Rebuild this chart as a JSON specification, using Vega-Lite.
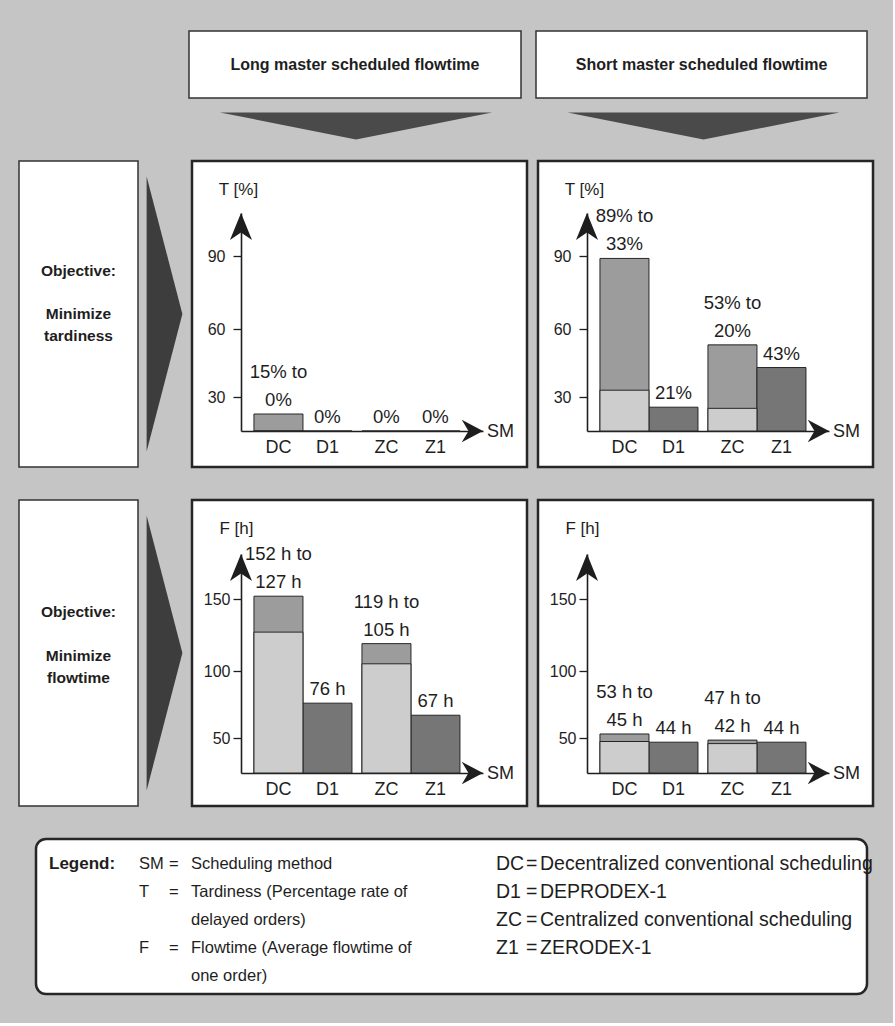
{
  "$schema": "https://vega.github.io/schema/vega-lite/v6.json",
  "background": "#c5c5c5",
  "padding": {"left": 18, "top": 30, "right": 18, "bottom": 27},
  "config": {"view": {"stroke": null}, "font": "Liberation Sans"},
  "datasets": {
    "results": [
      {"objective": "T", "term": "Long", "method": "DC", "pair": "D", "kind": "C", "upper": 15, "lower": 0, "labelTop": "15% to", "label": "0%"},
      {"objective": "T", "term": "Long", "method": "D1", "pair": "D", "kind": "1", "upper": 0, "lower": null, "labelTop": null, "label": "0%"},
      {"objective": "T", "term": "Long", "method": "ZC", "pair": "Z", "kind": "C", "upper": 0, "lower": null, "labelTop": null, "label": "0%"},
      {"objective": "T", "term": "Long", "method": "Z1", "pair": "Z", "kind": "1", "upper": 0, "lower": null, "labelTop": null, "label": "0%"},
      {"objective": "T", "term": "Short", "method": "DC", "pair": "D", "kind": "C", "upper": 89, "lower": 33, "labelTop": "89% to", "label": "33%"},
      {"objective": "T", "term": "Short", "method": "D1", "pair": "D", "kind": "1", "upper": 21, "lower": null, "labelTop": null, "label": "21%"},
      {"objective": "T", "term": "Short", "method": "ZC", "pair": "Z", "kind": "C", "upper": 53, "lower": 20, "labelTop": "53% to", "label": "20%"},
      {"objective": "T", "term": "Short", "method": "Z1", "pair": "Z", "kind": "1", "upper": 43, "lower": null, "labelTop": null, "label": "43%"},
      {"objective": "F", "term": "Long", "method": "DC", "pair": "D", "kind": "C", "upper": 152, "lower": 127, "labelTop": "152 h to", "label": "127 h"},
      {"objective": "F", "term": "Long", "method": "D1", "pair": "D", "kind": "1", "upper": 76, "lower": null, "labelTop": null, "label": "76 h"},
      {"objective": "F", "term": "Long", "method": "ZC", "pair": "Z", "kind": "C", "upper": 119, "lower": 105, "labelTop": "119 h to", "label": "105 h"},
      {"objective": "F", "term": "Long", "method": "Z1", "pair": "Z", "kind": "1", "upper": 67, "lower": null, "labelTop": null, "label": "67 h"},
      {"objective": "F", "term": "Short", "method": "DC", "pair": "D", "kind": "C", "upper": 53, "lower": 45, "labelTop": "53 h to", "label": "45 h"},
      {"objective": "F", "term": "Short", "method": "D1", "pair": "D", "kind": "1", "upper": 44, "lower": null, "labelTop": null, "label": "44 h"},
      {"objective": "F", "term": "Short", "method": "ZC", "pair": "Z", "kind": "C", "upper": 47, "lower": 42, "labelTop": "47 h to", "label": "42 h"},
      {"objective": "F", "term": "Short", "method": "Z1", "pair": "Z", "kind": "1", "upper": 44, "lower": null, "labelTop": null, "label": "44 h"}
    ],
    "legendEntries": [
      {"col": 1, "line": 1, "entry": "Legend:"},
      {"col": 2, "line": 1, "entry": "SM"},
      {"col": 3, "line": 1, "entry": "="},
      {"col": 4, "line": 1, "entry": "Scheduling method"},
      {"col": 2, "line": 2, "entry": "T"},
      {"col": 3, "line": 2, "entry": "="},
      {"col": 4, "line": 2, "entry": "Tardiness (Percentage rate of"},
      {"col": 4, "line": 3, "entry": "delayed orders)"},
      {"col": 2, "line": 4, "entry": "F"},
      {"col": 3, "line": 4, "entry": "="},
      {"col": 4, "line": 4, "entry": "Flowtime (Average flowtime of"},
      {"col": 4, "line": 5, "entry": "one order)"},
      {"col": 5, "line": 1, "entry": "DC"},
      {"col": 6, "line": 1, "entry": "="},
      {"col": 7, "line": 1, "entry": "Decentralized conventional scheduling"},
      {"col": 5, "line": 2, "entry": "D1"},
      {"col": 6, "line": 2, "entry": "="},
      {"col": 7, "line": 2, "entry": "DEPRODEX-1"},
      {"col": 5, "line": 3, "entry": "ZC"},
      {"col": 6, "line": 3, "entry": "="},
      {"col": 7, "line": 3, "entry": "Centralized conventional scheduling"},
      {"col": 5, "line": 4, "entry": "Z1"},
      {"col": 6, "line": 4, "entry": "="},
      {"col": 7, "line": 4, "entry": "ZERODEX-1"}
    ]
  },
  "spacing": 17,
  "vconcat": [
    {
      "spacing": 11,
      "vconcat": [
        {
          "spacing": 13,
          "hconcat": [
            {"width": 156, "height": 67, "mark": {"type": "text", "text": ""}},
            {"width": 332, "height": 67, "view": {"fill": "#ffffff", "stroke": "#333333", "strokeWidth": 1.5},
             "data": {"values": [{"heading": "Long master scheduled flowtime"}]},
             "mark": {"type": "text", "font": "Liberation Sans", "fontWeight": "bold", "fontSize": 16, "color": "#1e1e1e"},
             "encoding": {"text": {"field": "heading"}}},
            {"width": 331, "height": 67, "view": {"fill": "#ffffff", "stroke": "#333333", "strokeWidth": 1.5},
             "data": {"values": [{"heading": "Short master scheduled flowtime"}]},
             "mark": {"type": "text", "font": "Liberation Sans", "fontWeight": "bold", "fontSize": 16, "color": "#1e1e1e"},
             "encoding": {"text": {"field": "heading"}}}
          ]
        },
        {
          "spacing": 16,
          "hconcat": [
            {"width": 155, "height": 32, "mark": {"type": "text", "text": ""}},
            {"width": 332, "height": 32, "data": {"values": [{"arrow": "long"}]},
             "mark": {"type": "point", "shape": "M-1,-0.1L1,-0.1L0,0.1Z", "size": 73984, "filled": true, "color": "#4a4a4a", "opacity": 1, "strokeWidth": 0}, "encoding": {}},
            {"width": 331, "height": 32, "data": {"values": [{"arrow": "short"}]},
             "mark": {"type": "point", "shape": "M-1,-0.1L1,-0.1L0,0.1Z", "size": 73984, "filled": true, "color": "#4a4a4a", "opacity": 1, "strokeWidth": 0}, "encoding": {}}
          ]
        }
      ]
    },
    {
      "spacing": 29,
      "vconcat": [
        {
          "spacing": 7,
          "hconcat": [
            {
              "spacing": 0,
              "hconcat": [
                {"width": 119, "height": 306, "view": {"fill": "#ffffff", "stroke": "#333333", "strokeWidth": 1.5},
                 "data": {"values": [{"heading": "Objective:", "goal": "Minimize", "measure": "tardiness"}]},
                 "layer": [
                   {"mark": {"type": "text", "font": "Liberation Sans", "fontWeight": "bold", "fontSize": 15.5, "color": "#1e1e1e", "dy": -43}, "encoding": {"text": {"field": "heading"}}},
                   {"mark": {"type": "text", "font": "Liberation Sans", "fontWeight": "bold", "fontSize": 15.5, "color": "#1e1e1e", "dy": 0}, "encoding": {"text": {"field": "goal"}}},
                   {"mark": {"type": "text", "font": "Liberation Sans", "fontWeight": "bold", "fontSize": 15.5, "color": "#1e1e1e", "dy": 22}, "encoding": {"text": {"field": "measure"}}}
                 ]},
                {"width": 51, "height": 306, "data": {"values": [{"arrow": "tardiness"}]},
                 "mark": {"type": "point", "shape": "M-0.13,-1L0.13,0L-0.13,1Z", "size": 75625, "filled": true, "color": "#3d3d3d", "opacity": 1, "strokeWidth": 0}, "encoding": {}},
                {
                  "width": 335, "height": 306,
                  "view": {"fill": "#ffffff", "stroke": "#262626", "strokeWidth": 2.5},
                  "resolve": {"scale": {"x": "independent"}},
                  "layer": [
                    {
                      "data": {"name": "results"},
                      "transform": [{"filter": "datum.objective === 'T' && datum.term === 'Long'"}],
                      "encoding": {
                        "x": {"field": "pair", "type": "nominal", "scale": {"domain": ["D", "Z"], "range": [49, 291], "paddingInner": 0.0926, "paddingOuter": 0.1667, "align": 0.36},
                              "axis": {"title": "SM", "labels": false, "ticks": false, "grid": false, "domainColor": "#1e1e1e", "domainWidth": 1.6, "offset": -36, "titleX": 308, "titleY": 0, "titleAlign": "center", "titleBaseline": "middle", "titleFont": "Liberation Sans", "titleFontSize": 18, "titleFontWeight": "normal", "titleColor": "#1e1e1e"}},
                        "xOffset": {"field": "kind", "type": "nominal", "scale": {"domain": ["C", "1"], "paddingInner": 0, "paddingOuter": 0}}
                      },
                      "layer": [
                        {"mark": {"type": "bar", "stroke": "#262626", "strokeWidth": 1},
                         "encoding": {
                           "y": {"field": "upper", "type": "quantitative", "stack": null,
                                 "scale": {"domain": [0, 30, 60, 90, 108], "range": [270, 236, 168, 95, 52], "nice": false, "zero": false},
                                 "axis": {"title": "T [%]", "values": [30, 60, 90], "offset": -49, "grid": false, "domainColor": "#1e1e1e", "domainWidth": 1.6, "tickColor": "#1e1e1e", "tickSize": 8, "tickWidth": 1.3, "labelFont": "Liberation Sans", "labelFontSize": 16, "labelColor": "#1e1e1e", "labelPadding": 8, "titleAngle": 0, "titleX": -3, "titleY": 28, "titleAlign": "center", "titleBaseline": "middle", "titleFont": "Liberation Sans", "titleFontSize": 17, "titleFontWeight": "normal", "titleColor": "#1e1e1e"}},
                           "y2": {"datum": 0},
                           "color": {"field": "kind", "type": "nominal", "scale": {"domain": ["C", "1"], "range": ["#9c9c9c", "#767676"]}, "legend": null}}},
                        {"transform": [{"filter": "datum.lower != null"}],
                         "mark": {"type": "bar", "color": "#cdcdcd", "stroke": "#262626", "strokeWidth": 1},
                         "encoding": {"y": {"field": "lower", "type": "quantitative", "stack": null}, "y2": {"datum": 0}}},
                        {"mark": {"type": "text", "baseline": "top", "dy": 8, "font": "Liberation Sans", "fontSize": 18, "color": "#1e1e1e"},
                         "encoding": {"y": {"datum": 0}, "text": {"field": "method"}}},
                        {"mark": {"type": "text", "baseline": "bottom", "dy": -4, "font": "Liberation Sans", "fontSize": 18.5, "color": "#1e1e1e"},
                         "encoding": {"y": {"field": "upper", "type": "quantitative"}, "text": {"field": "label"}}},
                        {"transform": [{"filter": "datum.labelTop != null"}],
                         "mark": {"type": "text", "baseline": "bottom", "dy": -32, "font": "Liberation Sans", "fontSize": 18.5, "color": "#1e1e1e"},
                         "encoding": {"y": {"field": "upper", "type": "quantitative"}, "text": {"field": "labelTop"}}}
                      ]
                    },
                    {
                      "data": {"values": [{"arrow": "axes"}]},
                      "layer": [
                        {"mark": {"type": "point", "shape": "M-0.9,2.2L0,0L0.9,2.2L0,1.6Z", "size": 600, "filled": true, "color": "#1e1e1e", "opacity": 1, "strokeWidth": 0},
                         "encoding": {"x": {"datum": 0, "type": "quantitative", "scale": {"domain": [0, 1], "range": [49, 291]}, "axis": null}, "y": {"datum": 108, "type": "quantitative"}}},
                        {"mark": {"type": "point", "shape": "M-1.9,-1L0,0L-1.9,1L-1.3,0Z", "size": 500, "filled": true, "color": "#1e1e1e", "opacity": 1, "strokeWidth": 0},
                         "encoding": {"x": {"datum": 1, "type": "quantitative"}, "y": {"datum": 0, "type": "quantitative"}}}
                      ]
                    }
                  ]
                }
              ]
            },
            {
              "width": 335, "height": 306,
              "view": {"fill": "#ffffff", "stroke": "#262626", "strokeWidth": 2.5},
              "resolve": {"scale": {"x": "independent"}},
              "layer": [
                {
                  "data": {"name": "results"},
                  "transform": [{"filter": "datum.objective === 'T' && datum.term === 'Short'"}],
                  "encoding": {
                    "x": {"field": "pair", "type": "nominal", "scale": {"domain": ["D", "Z"], "range": [49, 291], "paddingInner": 0.0926, "paddingOuter": 0.1667, "align": 0.36},
                          "axis": {"title": "SM", "labels": false, "ticks": false, "grid": false, "domainColor": "#1e1e1e", "domainWidth": 1.6, "offset": -36, "titleX": 308, "titleY": 0, "titleAlign": "center", "titleBaseline": "middle", "titleFont": "Liberation Sans", "titleFontSize": 18, "titleFontWeight": "normal", "titleColor": "#1e1e1e"}},
                    "xOffset": {"field": "kind", "type": "nominal", "scale": {"domain": ["C", "1"], "paddingInner": 0, "paddingOuter": 0}}
                  },
                  "layer": [
                    {"mark": {"type": "bar", "stroke": "#262626", "strokeWidth": 1},
                     "encoding": {
                       "y": {"field": "upper", "type": "quantitative", "stack": null,
                             "scale": {"domain": [0, 30, 60, 90, 108], "range": [270, 236, 168, 95, 52], "nice": false, "zero": false},
                             "axis": {"title": "T [%]", "values": [30, 60, 90], "offset": -49, "grid": false, "domainColor": "#1e1e1e", "domainWidth": 1.6, "tickColor": "#1e1e1e", "tickSize": 8, "tickWidth": 1.3, "labelFont": "Liberation Sans", "labelFontSize": 16, "labelColor": "#1e1e1e", "labelPadding": 8, "titleAngle": 0, "titleX": -3, "titleY": 28, "titleAlign": "center", "titleBaseline": "middle", "titleFont": "Liberation Sans", "titleFontSize": 17, "titleFontWeight": "normal", "titleColor": "#1e1e1e"}},
                       "y2": {"datum": 0},
                       "color": {"field": "kind", "type": "nominal", "scale": {"domain": ["C", "1"], "range": ["#9c9c9c", "#767676"]}, "legend": null}}},
                    {"transform": [{"filter": "datum.lower != null"}],
                     "mark": {"type": "bar", "color": "#cdcdcd", "stroke": "#262626", "strokeWidth": 1},
                     "encoding": {"y": {"field": "lower", "type": "quantitative", "stack": null}, "y2": {"datum": 0}}},
                    {"mark": {"type": "text", "baseline": "top", "dy": 8, "font": "Liberation Sans", "fontSize": 18, "color": "#1e1e1e"},
                     "encoding": {"y": {"datum": 0}, "text": {"field": "method"}}},
                    {"mark": {"type": "text", "baseline": "bottom", "dy": -4, "font": "Liberation Sans", "fontSize": 18.5, "color": "#1e1e1e"},
                     "encoding": {"y": {"field": "upper", "type": "quantitative"}, "text": {"field": "label"}}},
                    {"transform": [{"filter": "datum.labelTop != null"}],
                     "mark": {"type": "text", "baseline": "bottom", "dy": -32, "font": "Liberation Sans", "fontSize": 18.5, "color": "#1e1e1e"},
                     "encoding": {"y": {"field": "upper", "type": "quantitative"}, "text": {"field": "labelTop"}}}
                  ]
                },
                {
                  "data": {"values": [{"arrow": "axes"}]},
                  "layer": [
                    {"mark": {"type": "point", "shape": "M-0.9,2.2L0,0L0.9,2.2L0,1.6Z", "size": 600, "filled": true, "color": "#1e1e1e", "opacity": 1, "strokeWidth": 0},
                     "encoding": {"x": {"datum": 0, "type": "quantitative", "scale": {"domain": [0, 1], "range": [49, 291]}, "axis": null}, "y": {"datum": 108, "type": "quantitative"}}},
                    {"mark": {"type": "point", "shape": "M-1.9,-1L0,0L-1.9,1L-1.3,0Z", "size": 500, "filled": true, "color": "#1e1e1e", "opacity": 1, "strokeWidth": 0},
                     "encoding": {"x": {"datum": 1, "type": "quantitative"}, "y": {"datum": 0, "type": "quantitative"}}}
                  ]
                }
              ]
            }
          ]
        },
        {
          "spacing": 7,
          "hconcat": [
            {
              "spacing": 0,
              "hconcat": [
                {"width": 119, "height": 306, "view": {"fill": "#ffffff", "stroke": "#333333", "strokeWidth": 1.5},
                 "data": {"values": [{"heading": "Objective:", "goal": "Minimize", "measure": "flowtime"}]},
                 "layer": [
                   {"mark": {"type": "text", "font": "Liberation Sans", "fontWeight": "bold", "fontSize": 15.5, "color": "#1e1e1e", "dy": -41}, "encoding": {"text": {"field": "heading"}}},
                   {"mark": {"type": "text", "font": "Liberation Sans", "fontWeight": "bold", "fontSize": 15.5, "color": "#1e1e1e", "dy": 3}, "encoding": {"text": {"field": "goal"}}},
                   {"mark": {"type": "text", "font": "Liberation Sans", "fontWeight": "bold", "fontSize": 15.5, "color": "#1e1e1e", "dy": 25}, "encoding": {"text": {"field": "measure"}}}
                 ]},
                {"width": 51, "height": 306, "data": {"values": [{"arrow": "flowtime"}]},
                 "mark": {"type": "point", "shape": "M-0.13,-1L0.13,0L-0.13,1Z", "size": 75625, "filled": true, "color": "#3d3d3d", "opacity": 1, "strokeWidth": 0}, "encoding": {}},
                {
                  "width": 335, "height": 306,
                  "view": {"fill": "#ffffff", "stroke": "#262626", "strokeWidth": 2.5},
                  "resolve": {"scale": {"x": "independent"}},
                  "layer": [
                    {
                      "data": {"name": "results"},
                      "transform": [{"filter": "datum.objective === 'F' && datum.term === 'Long'"}],
                      "encoding": {
                        "x": {"field": "pair", "type": "nominal", "scale": {"domain": ["D", "Z"], "range": [49, 291], "paddingInner": 0.0926, "paddingOuter": 0.1667, "align": 0.36},
                              "axis": {"title": "SM", "labels": false, "ticks": false, "grid": false, "domainColor": "#1e1e1e", "domainWidth": 1.6, "offset": -33, "titleX": 308, "titleY": 0, "titleAlign": "center", "titleBaseline": "middle", "titleFont": "Liberation Sans", "titleFontSize": 18, "titleFontWeight": "normal", "titleColor": "#1e1e1e"}},
                        "xOffset": {"field": "kind", "type": "nominal", "scale": {"domain": ["C", "1"], "paddingInner": 0, "paddingOuter": 0}}
                      },
                      "layer": [
                        {"mark": {"type": "bar", "stroke": "#262626", "strokeWidth": 1},
                         "encoding": {
                           "y": {"field": "upper", "type": "quantitative", "stack": null,
                                 "scale": {"domain": [0, 50, 100, 150, 182], "range": [273, 238, 171, 99, 54], "nice": false, "zero": false},
                                 "axis": {"title": "F [h]", "values": [50, 100, 150], "offset": -49, "grid": false, "domainColor": "#1e1e1e", "domainWidth": 1.6, "tickColor": "#1e1e1e", "tickSize": 8, "tickWidth": 1.3, "labelFont": "Liberation Sans", "labelFontSize": 16, "labelColor": "#1e1e1e", "labelPadding": 3, "titleAngle": 0, "titleX": -5, "titleY": 28, "titleAlign": "center", "titleBaseline": "middle", "titleFont": "Liberation Sans", "titleFontSize": 17, "titleFontWeight": "normal", "titleColor": "#1e1e1e"}},
                           "y2": {"datum": 0},
                           "color": {"field": "kind", "type": "nominal", "scale": {"domain": ["C", "1"], "range": ["#9c9c9c", "#767676"]}, "legend": null}}},
                        {"transform": [{"filter": "datum.lower != null"}],
                         "mark": {"type": "bar", "color": "#cdcdcd", "stroke": "#262626", "strokeWidth": 1},
                         "encoding": {"y": {"field": "lower", "type": "quantitative", "stack": null}, "y2": {"datum": 0}}},
                        {"mark": {"type": "text", "baseline": "top", "dy": 8, "font": "Liberation Sans", "fontSize": 18, "color": "#1e1e1e"},
                         "encoding": {"y": {"datum": 0}, "text": {"field": "method"}}},
                        {"mark": {"type": "text", "baseline": "bottom", "dy": -4, "font": "Liberation Sans", "fontSize": 18.5, "color": "#1e1e1e"},
                         "encoding": {"y": {"field": "upper", "type": "quantitative"}, "text": {"field": "label"}}},
                        {"transform": [{"filter": "datum.labelTop != null"}],
                         "mark": {"type": "text", "baseline": "bottom", "dy": -32, "font": "Liberation Sans", "fontSize": 18.5, "color": "#1e1e1e"},
                         "encoding": {"y": {"field": "upper", "type": "quantitative"}, "text": {"field": "labelTop"}}}
                      ]
                    },
                    {
                      "data": {"values": [{"arrow": "axes"}]},
                      "layer": [
                        {"mark": {"type": "point", "shape": "M-0.9,2.2L0,0L0.9,2.2L0,1.6Z", "size": 600, "filled": true, "color": "#1e1e1e", "opacity": 1, "strokeWidth": 0},
                         "encoding": {"x": {"datum": 0, "type": "quantitative", "scale": {"domain": [0, 1], "range": [49, 291]}, "axis": null}, "y": {"datum": 182, "type": "quantitative"}}},
                        {"mark": {"type": "point", "shape": "M-1.9,-1L0,0L-1.9,1L-1.3,0Z", "size": 500, "filled": true, "color": "#1e1e1e", "opacity": 1, "strokeWidth": 0},
                         "encoding": {"x": {"datum": 1, "type": "quantitative"}, "y": {"datum": 0, "type": "quantitative"}}}
                      ]
                    }
                  ]
                }
              ]
            },
            {
              "width": 335, "height": 306,
              "view": {"fill": "#ffffff", "stroke": "#262626", "strokeWidth": 2.5},
              "resolve": {"scale": {"x": "independent"}},
              "layer": [
                {
                  "data": {"name": "results"},
                  "transform": [{"filter": "datum.objective === 'F' && datum.term === 'Short'"}],
                  "encoding": {
                    "x": {"field": "pair", "type": "nominal", "scale": {"domain": ["D", "Z"], "range": [49, 291], "paddingInner": 0.0926, "paddingOuter": 0.1667, "align": 0.36},
                          "axis": {"title": "SM", "labels": false, "ticks": false, "grid": false, "domainColor": "#1e1e1e", "domainWidth": 1.6, "offset": -33, "titleX": 308, "titleY": 0, "titleAlign": "center", "titleBaseline": "middle", "titleFont": "Liberation Sans", "titleFontSize": 18, "titleFontWeight": "normal", "titleColor": "#1e1e1e"}},
                    "xOffset": {"field": "kind", "type": "nominal", "scale": {"domain": ["C", "1"], "paddingInner": 0, "paddingOuter": 0}}
                  },
                  "layer": [
                    {"mark": {"type": "bar", "stroke": "#262626", "strokeWidth": 1},
                     "encoding": {
                       "y": {"field": "upper", "type": "quantitative", "stack": null,
                             "scale": {"domain": [0, 50, 100, 150, 182], "range": [273, 238, 171, 99, 54], "nice": false, "zero": false},
                             "axis": {"title": "F [h]", "values": [50, 100, 150], "offset": -49, "grid": false, "domainColor": "#1e1e1e", "domainWidth": 1.6, "tickColor": "#1e1e1e", "tickSize": 8, "tickWidth": 1.3, "labelFont": "Liberation Sans", "labelFontSize": 16, "labelColor": "#1e1e1e", "labelPadding": 3, "titleAngle": 0, "titleX": -5, "titleY": 28, "titleAlign": "center", "titleBaseline": "middle", "titleFont": "Liberation Sans", "titleFontSize": 17, "titleFontWeight": "normal", "titleColor": "#1e1e1e"}},
                       "y2": {"datum": 0},
                       "color": {"field": "kind", "type": "nominal", "scale": {"domain": ["C", "1"], "range": ["#9c9c9c", "#767676"]}, "legend": null}}},
                    {"transform": [{"filter": "datum.lower != null"}],
                     "mark": {"type": "bar", "color": "#cdcdcd", "stroke": "#262626", "strokeWidth": 1},
                     "encoding": {"y": {"field": "lower", "type": "quantitative", "stack": null}, "y2": {"datum": 0}}},
                    {"mark": {"type": "text", "baseline": "top", "dy": 8, "font": "Liberation Sans", "fontSize": 18, "color": "#1e1e1e"},
                     "encoding": {"y": {"datum": 0}, "text": {"field": "method"}}},
                    {"mark": {"type": "text", "baseline": "bottom", "dy": -4, "font": "Liberation Sans", "fontSize": 18.5, "color": "#1e1e1e"},
                     "encoding": {"y": {"field": "upper", "type": "quantitative"}, "text": {"field": "label"}}},
                    {"transform": [{"filter": "datum.labelTop != null"}],
                     "mark": {"type": "text", "baseline": "bottom", "dy": -32, "font": "Liberation Sans", "fontSize": 18.5, "color": "#1e1e1e"},
                     "encoding": {"y": {"field": "upper", "type": "quantitative"}, "text": {"field": "labelTop"}}}
                  ]
                },
                {
                  "data": {"values": [{"arrow": "axes"}]},
                  "layer": [
                    {"mark": {"type": "point", "shape": "M-0.9,2.2L0,0L0.9,2.2L0,1.6Z", "size": 600, "filled": true, "color": "#1e1e1e", "opacity": 1, "strokeWidth": 0},
                     "encoding": {"x": {"datum": 0, "type": "quantitative", "scale": {"domain": [0, 1], "range": [49, 291]}, "axis": null}, "y": {"datum": 182, "type": "quantitative"}}},
                    {"mark": {"type": "point", "shape": "M-1.9,-1L0,0L-1.9,1L-1.3,0Z", "size": 500, "filled": true, "color": "#1e1e1e", "opacity": 1, "strokeWidth": 0},
                     "encoding": {"x": {"datum": 1, "type": "quantitative"}, "y": {"datum": 0, "type": "quantitative"}}}
                  ]
                }
              ]
            }
          ]
        },
        {
          "spacing": 14,
          "hconcat": [
            {"width": 1, "height": 155, "mark": {"type": "text", "text": ""}},
            {
              "width": 831, "height": 155,
              "view": {"fill": "#ffffff", "stroke": "#262626", "strokeWidth": 2.5, "cornerRadius": 10},
              "data": {"name": "legendEntries"},
              "encoding": {
                "x": {"field": "col", "type": "quantitative", "scale": {"domain": [1, 2, 3, 4, 5, 6, 7], "range": [13, 103, 133, 155, 460, 490, 504], "nice": false, "zero": false}, "axis": null},
                "y": {"field": "line", "type": "quantitative", "scale": {"domain": [1, 5], "range": [25, 137], "nice": false, "zero": false}, "axis": null},
                "text": {"field": "entry"}
              },
              "layer": [
                {"transform": [{"filter": "datum.col === 1"}], "mark": {"type": "text", "align": "left", "baseline": "middle", "font": "Liberation Sans", "fontWeight": "bold", "fontSize": 17, "color": "#1e1e1e"}},
                {"transform": [{"filter": "datum.col >= 2 && datum.col <= 4"}], "mark": {"type": "text", "align": "left", "baseline": "middle", "font": "Liberation Sans", "fontSize": 16.5, "color": "#1e1e1e"}},
                {"transform": [{"filter": "datum.col >= 5"}], "mark": {"type": "text", "align": "left", "baseline": "middle", "font": "Liberation Sans", "fontSize": 19.5, "color": "#1e1e1e"}}
              ]
            }
          ]
        }
      ]
    }
  ]
}
